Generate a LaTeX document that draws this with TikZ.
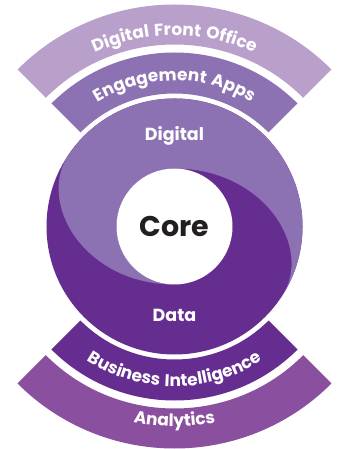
\documentclass[tikz,border=0pt]{standalone}
\usepackage{fontspec}
\setmainfont{Poppins}
\newfontfamily\bandfamily{Poppins}[LetterSpace=8]
\usetikzlibrary{decorations.text}

\definecolor{frontlilac}{HTML}{B9A0CB}
\definecolor{midviolet}{HTML}{8D72B3}
\definecolor{deepviolet}{HTML}{662D91}
\definecolor{plumband}{HTML}{8B4F9F}
\definecolor{coreink}{HTML}{231F20}

\newcommand{\bandfont}{\bandfamily\bfseries\fontsize{17}{20}\selectfont}
\tikzstyle{bandtext} = [decorate, decoration={text along path, text align=center, text color=white}]
\tikzstyle{ringlabel} = [anchor=base, text=white, font=\bfseries\fontsize{17.5}{20}\selectfont]
\tikzstyle{corelabel} = [anchor=base, text=coreink, font=\bfseries\fontsize{28.5}{32}\selectfont]

\begin{document}
\begin{tikzpicture}[x=1pt, y=1pt]
    \useasboundingbox (-174.5,-222.5) rectangle (162.5,226.5);

    % bands above
    \fill[frontlilac] (45:222) arc[start angle=45, end angle=135, radius=222] -- (135:182) arc[start angle=135, end angle=45, radius=182] -- cycle;
    \fill[midviolet] (45:174) arc[start angle=45, end angle=135, radius=174] -- (135:133) arc[start angle=135, end angle=45, radius=133] -- cycle;
    % bands below
    \fill[deepviolet] (-45:174) arc[start angle=-45, end angle=-135, radius=174] -- (-135:133) arc[start angle=-135, end angle=-45, radius=133] -- cycle;
    \fill[plumband] (-45:222) arc[start angle=-45, end angle=-135, radius=222] -- (-135:182) arc[start angle=-135, end angle=-45, radius=182] -- cycle;

    % swirl
    \fill[deepviolet] (0,0) circle[radius=128];
    \fill[midviolet] (145:128) arc[start angle=145, end angle=-33, radius=128]
        .. controls (139.3,-22) and (90,58) .. (0,58)
        arc[start angle=90, end angle=270, radius=58]
        .. controls (-90,-58) and (-139.3,24.3) .. (145:128);
    \fill[white] (0,0) circle[radius=58];

    \node (core) [corelabel] at (0,-10.5) {Core};
    \node (digital) [ringlabel] at (0,85.5) {Digital};
    \node (data) [ringlabel] at (0,-95.5) {Data};

    \path[bandtext, decoration={text={|\bandfont|Digital Front Office}}] (135:191) arc[start angle=135, end angle=45, radius=191];
    \path[bandtext, decoration={text={|\bandfont|Engagement Apps}}] (135:146) arc[start angle=135, end angle=45, radius=146];
    \path[bandtext, decoration={text={|\bandfont|Business Intelligence}}] (-135:160) arc[start angle=-135, end angle=-45, radius=160];
    \path[bandtext, decoration={text={|\bandfont|Analytics}}] (-135:200) arc[start angle=-135, end angle=-45, radius=200];
\end{tikzpicture}
\end{document}
